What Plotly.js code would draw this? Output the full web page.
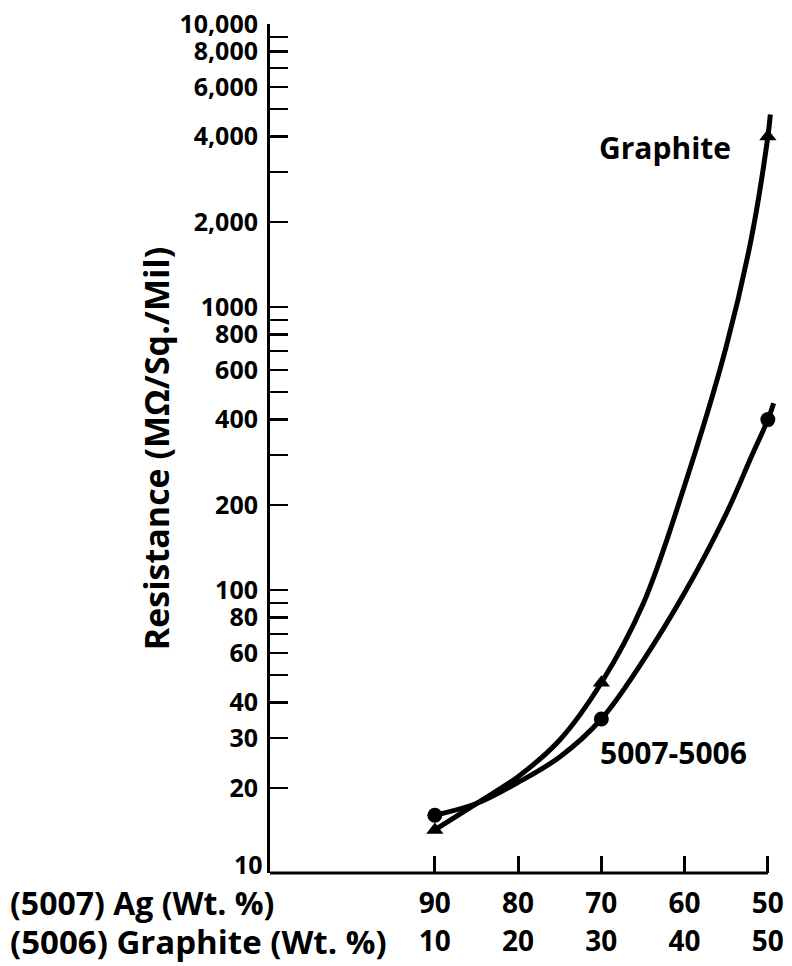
<!DOCTYPE html>
<html>
<head>
<meta charset="utf-8">
<script src="https://cdn.plot.ly/plotly-3.0.1.min.js"></script>
<style>html,body{margin:0;padding:0;background:#fff;}#chart{width:792px;height:966px;}</style>
</head>
<body>
<div id="chart"></div>
<script>
// Measured points (Ag wt.% of 5007 on x, resistance MΩ/sq./mil on y)
const agPoints = [90, 70, 50];
const graphitePts = [14.2, 47, 4000];
const blendPts = [16, 35, 400];

// Curves
const graphiteCurveX = [90, 85, 80, 75, 70, 65, 60, 55, 52, 50, 49.7];
const graphiteCurveY = [14.2, 17.6, 21.9, 29.5, 47, 89, 234, 724, 1740, 4000, 4790];
const blendCurveX = [90, 85, 80, 75, 70, 65, 60, 55, 52, 50, 49.3];
const blendCurveY = [16, 17.6, 20.9, 25.7, 35, 56.2, 97.7, 186, 295, 400, 457];

// Axis ticks
const agTicks = [90, 80, 70, 60, 50];
const agTickText = ['90', '80', '70', '60', '50'];
const graphiteWtText = ['10', '20', '30', '40', '50'];
const yTickVals = [20, 30, 40, 50, 60, 70, 80, 90, 100, 200, 300, 400, 500, 600, 700, 800, 900, 1000, 2000, 3000, 4000, 5000, 6000, 7000, 8000, 9000, 10000];
const yTickText = ['20', '30', '40', '', '60', '', '80', '', '100', '200', '', '400', '', '600', '', '800', '', '1000', '2,000', '', '4,000', '', '6,000', '', '8,000', '', '10,000'];
const yBottomLabel = '10';

const FONT = '"Open Sans", "Noto Sans", sans-serif';
const fnt = (s) => ({family: FONT, size: s, color: '#000', weight: 700});

const traces = [
  {x: graphiteCurveX, y: graphiteCurveY, mode: 'lines', line: {color: '#000', width: 5, shape: 'spline', smoothing: 1}, hoverinfo: 'skip', showlegend: false},
  {x: blendCurveX, y: blendCurveY, mode: 'lines', line: {color: '#000', width: 5, shape: 'spline', smoothing: 1}, hoverinfo: 'skip', showlegend: false},
  {x: agPoints, y: graphitePts, mode: 'markers', marker: {symbol: 'triangle-up', size: 15, color: '#000'}, showlegend: false},
  {x: agPoints, y: blendPts, mode: 'markers', marker: {symbol: 'circle', size: 15, color: '#000'}, showlegend: false},
  {x: agTicks, y: agTicks.map(() => null), xaxis: 'x2', mode: 'markers', marker: {opacity: 0}, hoverinfo: 'skip', showlegend: false}
];

const xr = [109.8, 48.3];
const layout = {
  width: 792, height: 966,
  margin: {l: 270, r: 10, t: 24, b: 93},
  paper_bgcolor: '#fff', plot_bgcolor: '#fff',
  showlegend: false,
  xaxis: {
    range: xr, showgrid: false, zeroline: false, showline: false,
    tickmode: 'array', tickvals: agTicks, ticktext: agTickText,
    ticks: 'inside', ticklen: 17, tickwidth: 3, tickcolor: '#000',
    tickfont: fnt(28), ticklabelstandoff: 11
  },
  xaxis2: {
    range: xr, overlaying: 'x', anchor: 'y', side: 'bottom',
    showgrid: false, zeroline: false, showline: false,
    tickmode: 'array', tickvals: agTicks, ticktext: graphiteWtText,
    ticks: '', tickfont: fnt(28), ticklabelstandoff: 49
  },
  yaxis: {
    type: 'log', range: [1, 4], showgrid: false, zeroline: false,
    showline: true, linecolor: '#000', linewidth: 3,
    tickmode: 'array', tickvals: yTickVals, ticktext: yTickText,
    ticks: 'inside', ticklen: 18, tickwidth: 2.5, tickcolor: '#000',
    tickfont: fnt(25), ticklabelstandoff: 4,
    title: {text: 'Resistance (MΩ/Sq./Mil)', font: fnt(34), standoff: 0}
  },
  shapes: [
    {type: 'line', xref: 'x', yref: 'paper', x0: xr[0], x1: 50, y0: 0, y1: 0, line: {color: '#000', width: 3}}
  ],
  annotations: [
    {text: yBottomLabel, xref: 'paper', yref: 'paper', x: 0, y: 0, xanchor: 'right', yanchor: 'middle', xshift: -5, yshift: 9, showarrow: false, font: fnt(25)},
    {text: 'Graphite', xref: 'paper', yref: 'paper', x: 0.6387, y: 0.854, xanchor: 'left', yanchor: 'middle', showarrow: false, font: fnt(30)},
    {text: '5007-5006', xref: 'paper', yref: 'paper', x: 0.6406, y: 0.1425, xanchor: 'left', yanchor: 'middle', showarrow: false, font: fnt(30)},
    {text: '(5007) Ag (Wt. %)', xref: 'paper', yref: 'paper', x: -0.5117, y: -0.0353, xanchor: 'left', yanchor: 'middle', showarrow: false, font: fnt(32)},
    {text: '(5006) Graphite (Wt. %)', xref: 'paper', yref: 'paper', x: -0.5117, y: -0.0801, xanchor: 'left', yanchor: 'middle', showarrow: false, font: fnt(33)}
  ]
};

Plotly.newPlot('chart', traces, layout, {staticPlot: true, displayModeBar: false});
</script>
</body>
</html>
